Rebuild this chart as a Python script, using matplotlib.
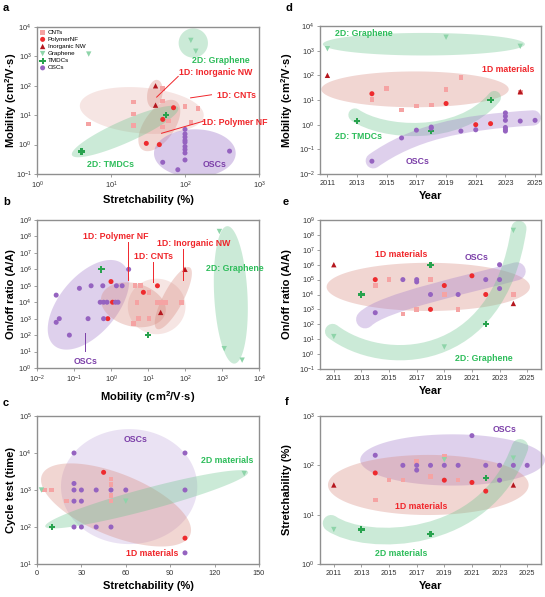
import numpy as np
import matplotlib
matplotlib.use("Agg")
import matplotlib.pyplot as plt
from matplotlib.patches import Polygon, PathPatch
from matplotlib.path import Path
from matplotlib.ticker import LogLocator, NullLocator

plt.rcParams["font.family"] = ["Liberation Sans", "DejaVu Sans"]
plt.rcParams["mathtext.default"] = "regular"

# ---- data: (a) stretchability vs mobility
a_cnt_x = [5, 20, 20, 20, 50, 50, 50, 60, 100, 150, 120]
a_cnt_y = [5, 28, 11, 4.5, 80, 30, 4, 6.3, 20, 17, 5.6]
a_pnf_x = [30, 45, 50, 70]
a_pnf_y = [1.1, 1.0, 7.2, 18]
a_nw_x = [40, 40]
a_nw_y = [100, 22]
a_gr_x = [5, 120, 140]
a_gr_y = [1200, 3500, 1500]
a_tmd_x = [4, 55]
a_tmd_y = [0.58, 10]
a_osc_x = [100, 100, 100, 100, 100, 100, 100, 100, 100, 50, 80, 400]
a_osc_y = [3.3, 2.3, 1.8, 1.4, 1.2, 0.86, 0.68, 0.52, 0.3, 0.25, 0.14, 0.6]

# ---- (b) mobility vs on/off ratio
b_cnt_x = [4.5, 6.3, 10.7, 5, 18, 22, 30, 80, 5.6, 10.7, 4]
b_cnt_y = [1e5, 1e5, 4e4, 1e4, 1e4, 1e4, 1e4, 1e4, 1e3, 1e3, 500]
b_pnf_x = [1.0, 7.5, 18, 0.82, 1.1]
b_pnf_y = [1.8e5, 4e4, 1e5, 1e3, 1e4]
b_nw_x = [100, 22]
b_nw_y = [1e6, 2.4e3]
b_gr_x = [850, 1150, 3500]
b_gr_y = [2e8, 15, 3]
b_tmd_x = [0.55, 10]
b_tmd_y = [1e6, 100]
b_osc_x = [0.033, 0.033, 0.04, 0.075, 0.14, 0.24, 0.29, 0.6, 1.4, 2, 3,
           0.51, 0.63, 0.78, 1.32, 1.55, 0.63]
b_osc_y = [2.7e4, 600, 1e3, 100, 7e4, 1e3, 1e5, 1e5, 1e5, 1e5, 1e6,
           1e4, 1e4, 1e4, 1e4, 1e4, 1e3]

# ---- (c) stretchability vs cycle test
c_cnt_x = [5, 10, 20, 50, 50, 50, 50]
c_cnt_y = [1000, 1000, 500, 2000, 1400, 700, 500]
c_pnf_x = [45, 100]
c_pnf_y = [3000, 50]
c_nw_x = []
c_nw_y = []
c_gr_x = [3, 60, 140]
c_gr_y = [1000, 500, 2800]
c_tmd_x = [10]
c_tmd_y = [100]
c_osc_x = [25, 100, 25, 25, 30, 40, 50, 60, 100, 25, 30, 25, 30, 40, 50, 100]
c_osc_y = [1e4, 1e4, 1500, 1000, 1000, 1000, 1000, 1000, 1000, 500, 500,
           100, 100, 100, 100, 20]

# ---- (d) year vs mobility
d_cnt_x = [2014, 2015, 2016, 2017, 2018, 2019, 2020, 2024]
d_cnt_y = [10.7, 30, 4, 5.7, 6.3, 27, 80, 20]
d_pnf_x = [2014, 2019, 2021, 2022]
d_pnf_y = [18, 7.2, 1.0, 1.1]
d_nw_x = [2011, 2024]
d_nw_y = [100, 22]
d_gr_x = [2011, 2019, 2024]
d_gr_y = [1200, 3500, 1500]
d_tmd_x = [2013, 2018, 2022]
d_tmd_y = [1.4, 0.55, 10]
d_osc_x = [2014, 2016, 2017, 2018, 2018, 2020, 2021, 2023, 2023, 2023, 2023,
           2023, 2023, 2024, 2025]
d_osc_y = [0.033, 0.29, 0.6, 0.8, 0.72, 0.55, 0.62, 3, 2.2, 1.5, 0.77,
           0.65, 0.55, 1.4, 1.5]

# ---- (e) year vs on/off ratio
e_cnt_x = [2014, 2015, 2016, 2017, 2018, 2019, 2020, 2024]
e_cnt_y = [4e4, 1e5, 500, 1e3, 1e5, 1e4, 1e3, 1e4]
e_pnf_x = [2014, 2018, 2019, 2021, 2022]
e_pnf_y = [1e5, 1e3, 4e4, 1.8e5, 1e4]
e_nw_x = [2011, 2024]
e_nw_y = [1e6, 2.5e3]
e_gr_x = [2011, 2019, 2024]
e_gr_y = [15, 3, 2e8]
e_tmd_x = [2013, 2018, 2022]
e_tmd_y = [1e4, 1e6, 100]
e_osc_x = [2014, 2016, 2017, 2017, 2018, 2020, 2022, 2023, 2023, 2023]
e_osc_y = [600, 1e5, 1e5, 7e4, 1e4, 1e4, 1e5, 1e6, 1e5, 2.5e4]

# ---- (f) year vs stretchability
f_cnt_x = [2014, 2015, 2016, 2017, 2018, 2019, 2020]
f_cnt_y = [20, 50, 50, 120, 60, 150, 50]
f_pnf_x = [2014, 2019, 2021, 2022]
f_pnf_y = [70, 50, 45, 30]
f_nw_x = [2011, 2024]
f_nw_y = [40, 40]
f_gr_x = [2011, 2019, 2024]
f_gr_y = [5, 130, 140]
f_tmd_x = [2013, 2018, 2022]
f_tmd_y = [5, 4, 55]
f_osc_x = [2014, 2016, 2017, 2017, 2018, 2019, 2020, 2021, 2022, 2023, 2023,
           2024, 2025]
f_osc_y = [160, 100, 100, 80, 100, 100, 100, 400, 100, 100, 50, 100, 100]

years = [2011, 2013, 2015, 2017, 2019, 2021, 2023, 2025]

# colours
C_CNT = "#F5A3A3"
C_PNF = "#EE2B2E"
C_NW = "#B5171E"
C_GR = "#8ED4A9"
C_TMD = "#28A24E"
C_OSC = "#9563C0"
T_RED = "#F0262B"
T_GREEN = "#2EBD5B"
T_PURPLE = "#7B3EA8"
F_PINK = "#D88A80"
F_GREEN = "#6CC48E"
F_PURPLE = "#A27BCB"

styles = {
    "cnt": dict(marker="s", color=C_CNT, s=11, label="CNTs"),
    "pnf": dict(marker="o", color=C_PNF, s=13, label="PolymerNF"),
    "nw": dict(marker="^", color=C_NW, s=15, label="Inorganic NW"),
    "gr": dict(marker="v", color=C_GR, s=15, label="Graphene"),
    "tmd": dict(marker="P", color=C_TMD, s=21, label="TMDCs"),
    "osc": dict(marker="o", color=C_OSC, s=13, label="OSCs"),
}

fig = plt.figure(figsize=(5.45, 5.97), dpi=100)
W, H = 545.0, 597.0


def make_ax(l, t, r, b):
    return fig.add_axes([l / W, 1 - b / H, (r - l) / W, (b - t) / H])


ax_a = make_ax(37, 27, 259, 174)
ax_b = make_ax(37, 220, 259, 368)
ax_c = make_ax(37, 416, 259, 564)
ax_d = make_ax(320, 26, 541, 174)
ax_e = make_ax(320, 220, 541, 369)
ax_f = make_ax(320, 416, 541, 564)


def aspect(ax):
    p = ax.get_position()
    return (p.height * H) / (p.width * W)


def blob(ax, cx, cy, a, b, ang, color, alpha=0.35, clip=True):
    r = aspect(ax)
    t = np.linspace(0, 2 * np.pi, 200)
    ph = np.deg2rad(ang)
    u, v = a * np.cos(t), b * np.sin(t)
    dx = u * np.cos(ph) - v * np.sin(ph)
    dy = u * np.sin(ph) + v * np.cos(ph)
    pts = np.column_stack([cx + dx, cy + dy / r])
    ax.add_patch(Polygon(pts, closed=True, facecolor=color, edgecolor="none",
                         alpha=alpha, transform=ax.transAxes, zorder=1,
                         clip_on=clip))


def band(ax, ctrl, color, lw, alpha=0.35):
    path = Path(ctrl, [Path.MOVETO, Path.CURVE4, Path.CURVE4, Path.CURVE4])
    ax.add_patch(PathPatch(path, fill=False, edgecolor=color, lw=lw,
                           alpha=alpha, capstyle="round",
                           transform=ax.transAxes, zorder=1, clip_on=False))


def draw(ax, data):
    hs = []
    for key, (x, y) in data.items():
        hs.append(ax.scatter(x, y, edgecolors="none", zorder=3, **styles[key]))
    return hs


def label(ax, x, y, s, color, ha="center"):
    ax.text(x, y, s, color=color, fontsize=6.3, fontweight="bold", ha=ha,
            va="center", transform=ax.transAxes, zorder=4)


def leader(ax, x0, y0, x1, y1, color=T_RED):
    ax.plot([x0, x1], [y0, y1], color=color, lw=0.7,
            transform=ax.transAxes, zorder=4)


def style(ax, xlabel, ylabel, ylab_x):
    for sp in ax.spines.values():
        sp.set_color("#8f8f8f")
        sp.set_linewidth(1.0)
    ax.tick_params(direction="out", length=2.5, width=0.6, color="#8f8f8f",
                   labelsize=5.3, labelcolor="#333333", pad=1.5)
    ax.set_xlabel(xlabel, fontsize=8, fontweight="bold", labelpad=3)
    ax.set_ylabel(ylabel, fontsize=8, fontweight="bold", va="center")
    ax.yaxis.set_label_coords(ylab_x, 0.5)


def logy(ax, lo, hi):
    ax.set_yscale("log")
    ax.set_ylim(lo, hi)
    ax.yaxis.set_major_locator(LogLocator(base=10, numticks=20))
    ax.yaxis.set_minor_locator(NullLocator())


def logx(ax, lo, hi):
    ax.set_xscale("log")
    ax.set_xlim(lo, hi)
    ax.xaxis.set_major_locator(LogLocator(base=10, numticks=20))
    ax.xaxis.set_minor_locator(NullLocator())


MOB = "Mobility (cm$^{2}$/V\u00b7s)"
LX = -0.118
RX = -0.15

# ---------------- (a)
ax = ax_a
logx(ax, 1, 1e3)
logy(ax, 0.1, 1e4)
blob(ax, 0.472, 0.432, 0.28, 0.103, -5, F_PINK, 0.22)
blob(ax, 0.531, 0.545, 0.064, 0.034, 80, F_PINK, 0.35)
blob(ax, 0.551, 0.33, 0.133, 0.068, 55, F_PINK, 0.35)
blob(ax, 0.397, 0.289, 0.262, 0.05, 24, F_GREEN, 0.35)
blob(ax, 0.704, 0.891, 0.066, 0.066, 0, F_GREEN, 0.35)
blob(ax, 0.711, 0.141, 0.184, 0.108, 0, F_PURPLE, 0.4)
hs = draw(ax, {"cnt": (a_cnt_x, a_cnt_y), "pnf": (a_pnf_x, a_pnf_y),
               "nw": (a_nw_x, a_nw_y), "gr": (a_gr_x, a_gr_y),
               "tmd": (a_tmd_x, a_tmd_y), "osc": (a_osc_x, a_osc_y)})
ax.legend(handles=hs, loc="upper left", frameon=False, fontsize=4.5,
          handletextpad=0.3, labelspacing=0.28, borderaxespad=0.2,
          handlelength=1.0, borderpad=0.2)
label(ax, 0.828, 0.77, "2D: Graphene", T_GREEN)
label(ax, 0.805, 0.689, "1D: Inorganic NW", T_RED)
label(ax, 0.898, 0.534, "1D: CNTs", T_RED)
label(ax, 0.89, 0.352, "1D: Polymer NF", T_RED)
label(ax, 0.33, 0.068, "2D: TMDCs", T_GREEN)
label(ax, 0.80, 0.068, "OSCs", T_PURPLE)
leader(ax, 0.636, 0.664, 0.539, 0.523)
leader(ax, 0.786, 0.539, 0.692, 0.518)
leader(ax, 0.749, 0.359, 0.561, 0.277)
style(ax, "Stretchability (%)", MOB, LX)

# ---------------- (b)
ax = ax_b
logx(ax, 1e-2, 1e4)
logy(ax, 1, 1e9)
blob(ax, 0.232, 0.427, 0.24, 0.13, 50, F_PURPLE, 0.35)
blob(ax, 0.434, 0.427, 0.149, 0.097, -15, F_PINK, 0.35)
blob(ax, 0.539, 0.416, 0.13, 0.125, 0, F_PINK, 0.22)
blob(ax, 0.614, 0.472, 0.157, 0.045, 62, F_PINK, 0.35)
blob(ax, 0.873, 0.494, 0.31, 0.075, 93, F_GREEN, 0.35)
draw(ax, {"cnt": (b_cnt_x, b_cnt_y), "pnf": (b_pnf_x, b_pnf_y),
          "nw": (b_nw_x, b_nw_y), "gr": (b_gr_x, b_gr_y),
          "tmd": (b_tmd_x, b_tmd_y), "osc": (b_osc_x, b_osc_y)})
label(ax, 0.355, 0.888, "1D: Polymer NF", T_RED)
label(ax, 0.524, 0.753, "1D: CNTs", T_RED)
label(ax, 0.707, 0.843, "1D: Inorganic NW", T_RED)
label(ax, 0.891, 0.67, "2D: Graphene", T_GREEN)
label(ax, 0.217, 0.045, "OSCs", T_PURPLE)
leader(ax, 0.412, 0.854, 0.412, 0.596)
leader(ax, 0.524, 0.719, 0.524, 0.58)
leader(ax, 0.656, 0.804, 0.656, 0.596)
leader(ax, 0.217, 0.236, 0.217, 0.112, T_PURPLE)
style(ax, MOB, "On/off ratio (A/A)", LX)

# ---------------- (c)
ax = ax_c
ax.set_xlim(0, 150)
ax.set_xticks([0, 30, 60, 90, 120, 150])
logy(ax, 10, 1e5)
blob(ax, 0.415, 0.523, 0.307, 0.259, 0, F_PURPLE, 0.22)
blob(ax, 0.356, 0.399, 0.36, 0.14, -22, F_PINK, 0.35)
blob(ax, 0.494, 0.437, 0.473, 0.049, 15, F_GREEN, 0.35)
draw(ax, {"cnt": (c_cnt_x, c_cnt_y), "pnf": (c_pnf_x, c_pnf_y),
          "nw": (c_nw_x, c_nw_y), "gr": (c_gr_x, c_gr_y),
          "tmd": (c_tmd_x, c_tmd_y), "osc": (c_osc_x, c_osc_y)})
label(ax, 0.442, 0.842, "OSCs", T_PURPLE)
label(ax, 0.858, 0.698, "2D materials", T_GREEN)
label(ax, 0.521, 0.072, "1D materials", T_RED)
style(ax, "Stretchability (%)", "Cycle test (time)", LX)

# ---------------- (d)
ax = ax_d
ax.set_xlim(2010.5, 2025.4)
ax.set_xticks(years)
logy(ax, 1e-2, 1e4)
blob(ax, 0.47, 0.877, 0.457, 0.051, 0, F_GREEN, 0.35)
blob(ax, 0.43, 0.572, 0.424, 0.081, 0, F_PINK, 0.35)
band(ax, [(0.158, 0.399), (0.279, 0.272), (0.626, 0.227), (0.789, 0.517)],
     F_GREEN, 9.5)
band(ax, [(0.241, 0.089), (0.415, 0.272), (0.626, 0.35), (0.965, 0.379)],
     F_PURPLE, 11)
draw(ax, {"cnt": (d_cnt_x, d_cnt_y), "pnf": (d_pnf_x, d_pnf_y),
          "nw": (d_nw_x, d_nw_y), "gr": (d_gr_x, d_gr_y),
          "tmd": (d_tmd_x, d_tmd_y), "osc": (d_osc_x, d_osc_y)})
label(ax, 0.20, 0.947, "2D: Graphene", T_GREEN)
label(ax, 0.852, 0.706, "1D materials", T_RED)
label(ax, 0.176, 0.25, "2D: TMDCs", T_GREEN)
label(ax, 0.442, 0.087, "OSCs", T_PURPLE)
style(ax, "Year", MOB, RX)

# ---------------- (e)
ax = ax_e
ax.set_xlim(2010, 2026)
ax.set_xticks(years)
logy(ax, 0.1, 1e9)
blob(ax, 0.49, 0.551, 0.46, 0.109, 0, F_PINK, 0.35)
band(ax, [(0.204, 0.333), (0.279, 0.449), (0.686, 0.573), (0.89, 0.656)],
     F_PURPLE, 13)
band(ax, [(0.057, 0.252), (0.279, 0.0), (0.807, 0.0), (0.9, 0.944)],
     F_GREEN, 11)
draw(ax, {"cnt": (e_cnt_x, e_cnt_y), "pnf": (e_pnf_x, e_pnf_y),
          "nw": (e_nw_x, e_nw_y), "gr": (e_gr_x, e_gr_y),
          "tmd": (e_tmd_x, e_tmd_y), "osc": (e_osc_x, e_osc_y)})
label(ax, 0.367, 0.771, "1D materials", T_RED)
label(ax, 0.709, 0.746, "OSCs", T_PURPLE)
label(ax, 0.742, 0.072, "2D: Graphene", T_GREEN)
style(ax, "Year", "On/off ratio (A/A)", RX)

# ---------------- (f)
ax = ax_f
ax.set_xlim(2010, 2026)
ax.set_xticks(years)
logy(ax, 1, 1e3)
blob(ax, 0.6, 0.703, 0.418, 0.116, 0, F_PURPLE, 0.35, clip=False)
blob(ax, 0.49, 0.534, 0.454, 0.136, 0, F_PINK, 0.35)
band(ax, [(0.05, 0.275), (0.204, 0.117), (0.747, 0.117), (0.905, 0.788)],
     F_GREEN, 12)
draw(ax, {"cnt": (f_cnt_x, f_cnt_y), "pnf": (f_pnf_x, f_pnf_y),
          "nw": (f_nw_x, f_nw_y), "gr": (f_gr_x, f_gr_y),
          "tmd": (f_tmd_x, f_tmd_y), "osc": (f_osc_x, f_osc_y)})
label(ax, 0.834, 0.912, "OSCs", T_PURPLE)
label(ax, 0.457, 0.387, "1D materials", T_RED)
label(ax, 0.367, 0.072, "2D materials", T_GREEN)
style(ax, "Year", "Stretchability (%)", RX)

# panel letters
for s, x, y in [("a", 3, 8), ("b", 3, 202), ("c", 3, 403),
                ("d", 285, 8), ("e", 283, 202), ("f", 285, 402)]:
    fig.text(x / W, 1 - y / H, s, fontsize=8, fontweight="bold",
             ha="left", va="center")

fig.savefig("out.png", dpi=100)
